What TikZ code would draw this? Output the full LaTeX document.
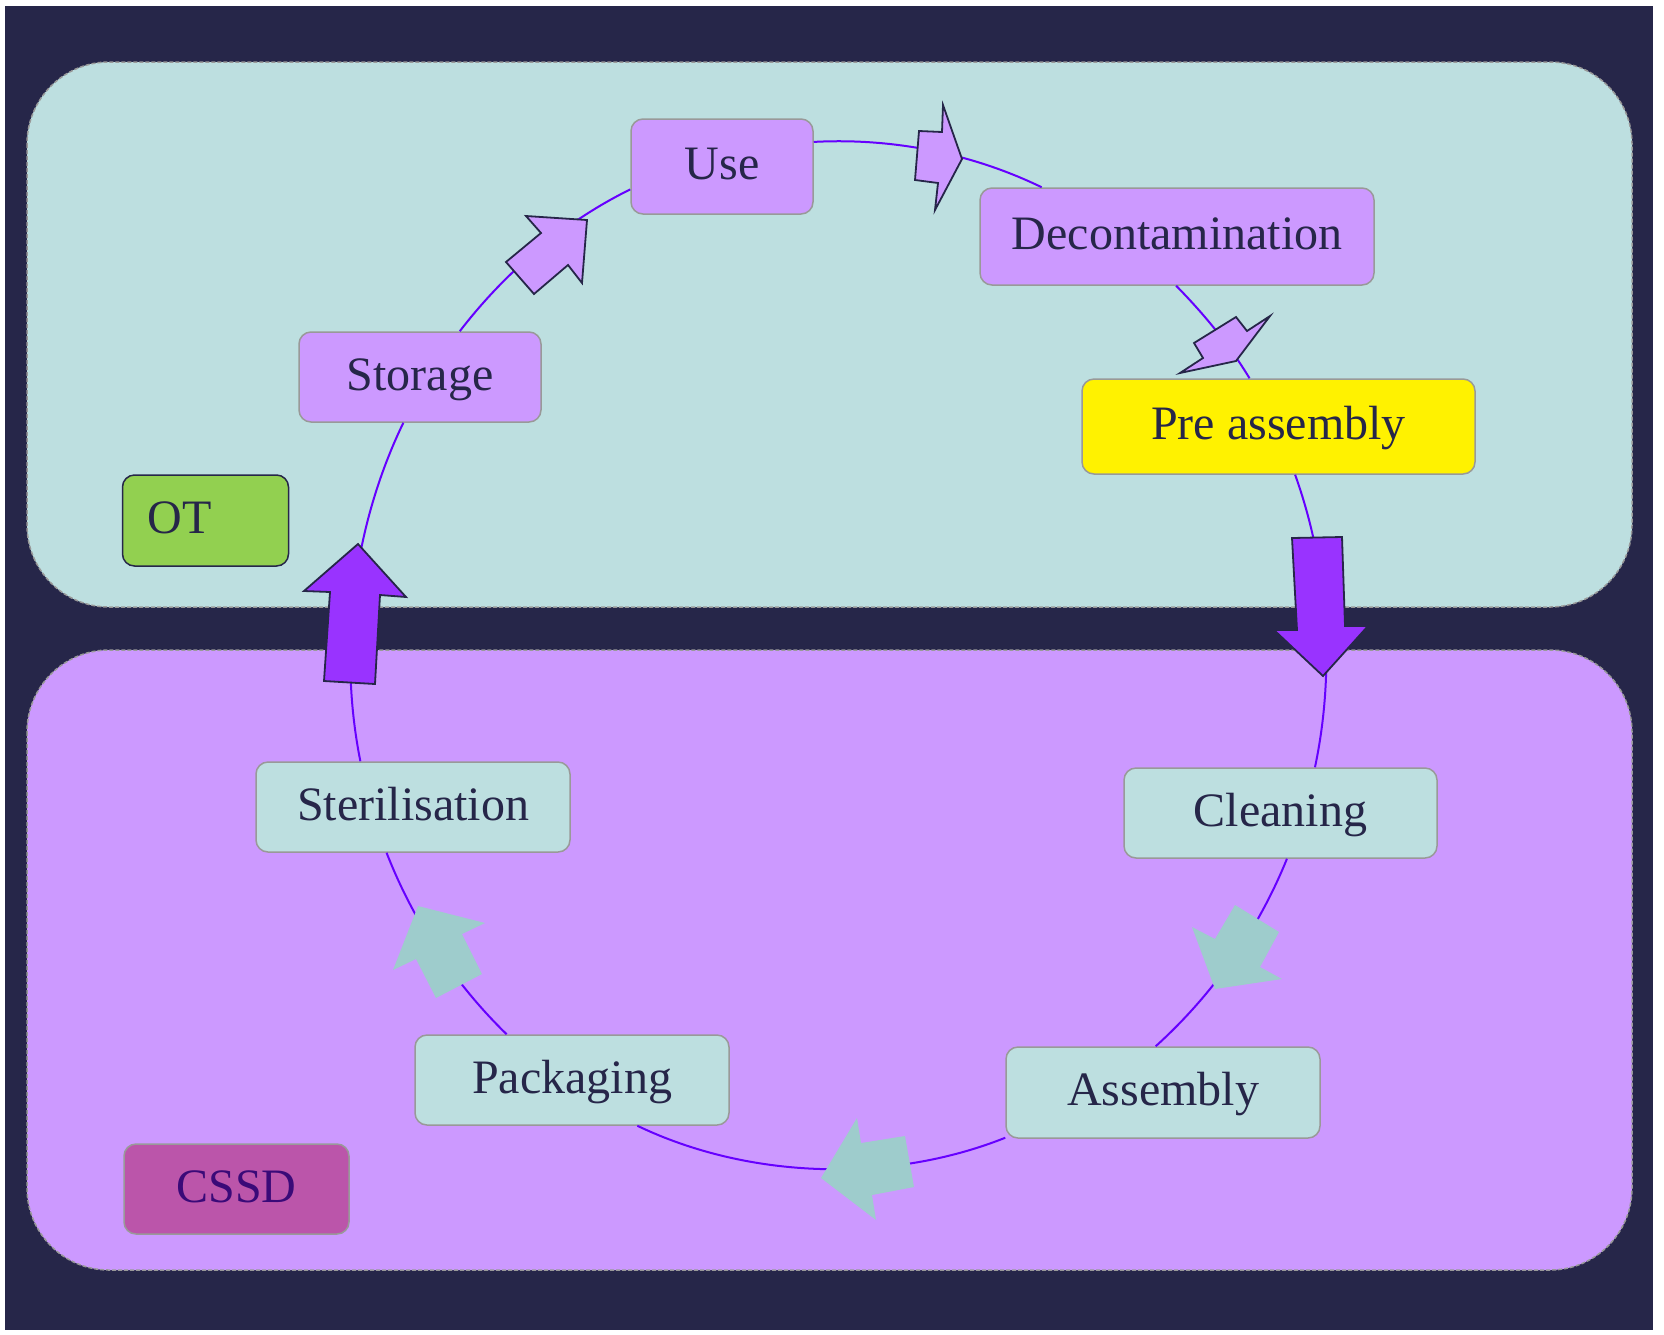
\documentclass[tikz,border=0pt]{standalone}
\usepackage{fontspec}
\setmainfont{Liberation Serif}
\definecolor{bgdark}{HTML}{262649}
\definecolor{otfill}{HTML}{BDDFE0}
\definecolor{cssdfill}{HTML}{CC99FF}
\definecolor{lilac}{HTML}{CC99FF}
\definecolor{bordergray}{HTML}{999999}
\definecolor{connviolet}{HTML}{6600FF}
\definecolor{bigarrow}{HTML}{9933FF}
\definecolor{tealarrow}{HTML}{9ECCCC}
\definecolor{otgreen}{HTML}{92D050}
\definecolor{cssdlabel}{HTML}{BB55AA}
\definecolor{cssdtext}{HTML}{3A0A78}
\begin{document}
\begin{tikzpicture}[x=0.5pt,y=-0.5pt,
  region/.style={draw=bordergray, line width=0.75pt, dash pattern=on 2pt off 1pt, rounded corners=41pt},
  stepnode/.style={draw=bordergray, line width=0.75pt, rounded corners=6pt, inner sep=0pt,
     font=\fontsize{24}{28}\selectfont, text=bgdark, text height=17pt, text depth=4pt},
  otnode/.style={stepnode, fill=lilac},
  cssdnode/.style={stepnode, fill=otfill},
  conn/.style={draw=connviolet, line width=1pt, looseness=0.86},
  smallarrow/.style={fill=lilac, draw=bgdark, line width=0.9pt, line join=miter},
  bigarrowstyle/.style={fill=bigarrow, draw=bgdark, line width=0.9pt, line join=miter},
  tealarrowstyle/.style={fill=tealarrow}
]
\useasboundingbox (0,0) rectangle (1664,1334);
\fill[white] (0,0) rectangle (1664,1334);
\fill[bgdark] (5,6) rectangle (1653,1330);
\draw[region, fill=otfill] (27,62) rectangle (1632,607);
\draw[region, fill=cssdfill] (27,650) rectangle (1632,1270);

% nodes
\node[otnode, minimum width=91pt, minimum height=47.5pt] (use) at (722,166.5) {Use};
\node[otnode, minimum width=197pt, minimum height=48.5pt] (decont) at (1177,236.5) {Decontamination};
\node[otnode, fill=yellow, minimum width=196.5pt, minimum height=47.5pt] (pre) at (1278.5,426.5) {Pre assembly};
\node[otnode, minimum width=121pt, minimum height=45pt] (storage) at (420,377) {Storage};
\node[cssdnode, minimum width=156.5pt, minimum height=45pt] (cleaning) at (1280.5,813) {Cleaning};
\node[cssdnode, minimum width=157pt, minimum height=45.5pt] (assembly) at (1163,1092.5) {Assembly};
\node[cssdnode, minimum width=157pt, minimum height=45pt] (packaging) at (572,1080) {Packaging};
\node[cssdnode, minimum width=157pt, minimum height=45pt] (steril) at (413,807) {Sterilisation};
\node[stepnode, fill=otgreen, draw=bgdark, text width=58pt, align=left, inner xsep=12.5pt, minimum height=45.5pt] (ot) at (205.5,520.5) {OT};
\node[stepnode, fill=cssdlabel, text=cssdtext, minimum width=112.5pt, minimum height=45pt] (cssd) at (236.5,1189) {CSSD};

% connectors
\draw[conn] (storage.49) to[out=52.5,in=206.3] (use.194);
\draw[conn] (use.15) to[out=3.1,in=154.1] (decont.160);
\draw[conn] (decont.269) to[out=-45.5,in=121.2] (pre.121);
\draw[conn] (pre.289) to[out=-70.3,in=78.1] (cleaning.53);
\draw[conn] (cleaning.278) to[out=248,in=42.1] (assembly.99);
\draw[conn] (assembly.196.5) to[out=201.7,in=334.4] (packaging.325);
\draw[conn] (packaging.145) to[out=135.8,in=291.3] (steril.240);
\draw[conn] (steril.139.5) to[out=101.3,in=244.2] (storage.250);

% block arrows
\draw[smallarrow] (587,220) -- (582,283) -- (568,265) -- (534,294) -- (506,262) -- (541,233) -- (526,216) -- cycle;
\draw[smallarrow] (962,159) -- (943,105) -- (942,132) -- (919,131) -- (915,180) -- (938,183) -- (935,210) -- cycle;
\draw[smallarrow] (1180,373) -- (1203,358) -- (1194,343) -- (1236,317) -- (1247,331) -- (1270,316) -- (1236,361) -- cycle;
\draw[bigarrowstyle] (1292,538) -- (1342,537) -- (1345,626) -- (1368,626) -- (1323,676) -- (1274,630) -- (1297,630) -- cycle;
\fill[tealarrowstyle] (1235,905) -- (1279,932) -- (1260,967) -- (1282,979) -- (1215,989) -- (1192,927) -- (1215,939) -- cycle;
\fill[tealarrowstyle] (857,1118) -- (861,1143) -- (905,1136) -- (914,1187) -- (872,1195) -- (876,1220) -- (821,1178) -- cycle;
\fill[tealarrowstyle] (418,906) -- (485,923) -- (462,934) -- (482,974) -- (436,998) -- (416,959) -- (393,970) -- cycle;
\draw[bigarrowstyle] (358,544) -- (406,597) -- (380,595) -- (375,684) -- (324,681) -- (330,592) -- (304,591) -- cycle;
\end{tikzpicture}
\end{document}
